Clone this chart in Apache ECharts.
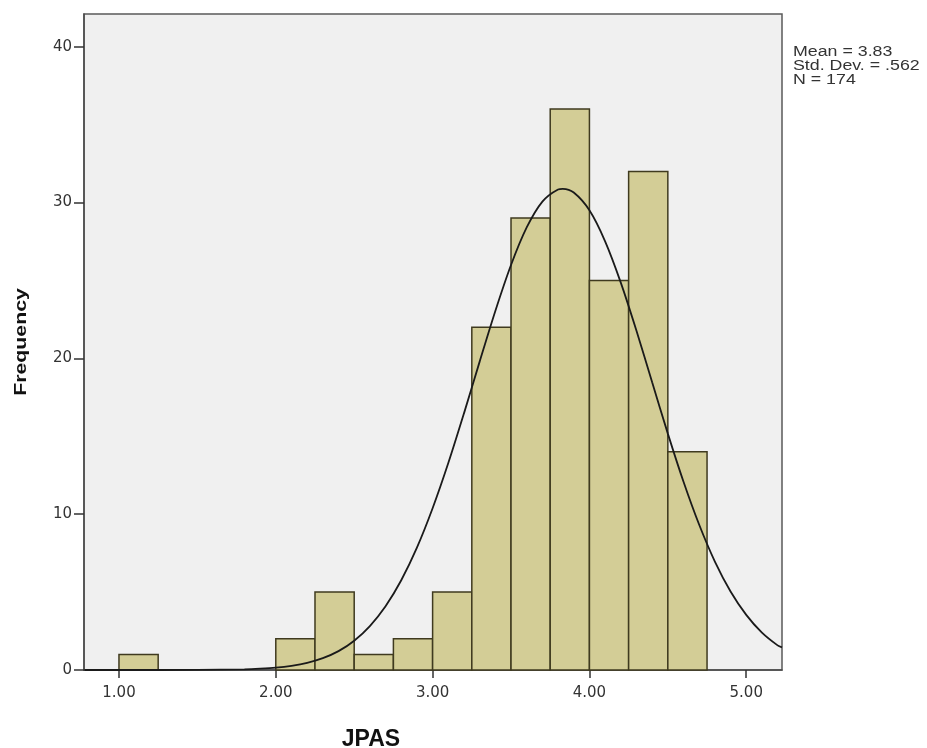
<!DOCTYPE html>
<html>
<head>
<meta charset="utf-8">
<script src="https://cdn.jsdelivr.net/npm/echarts@6/dist/echarts.min.js"></script>
<style>
html,body{margin:0;padding:0;background:#fff;}
#chart{width:927px;height:748px;}
</style>
</head>
<body>
<div id="chart"></div>
<script>
// Histogram bins (lower edge, upper edge) and frequencies
const binStarts = [1.00, 2.00, 2.25, 2.50, 2.75, 3.00, 3.25, 3.50, 3.75, 4.00, 4.25, 4.50];
const binEnds   = [1.25, 2.25, 2.50, 2.75, 3.00, 3.25, 3.50, 3.75, 4.00, 4.25, 4.50, 4.75];
const counts    = [1, 2, 5, 1, 2, 5, 22, 29, 36, 25, 32, 14];

// Normal curve (x, frequency)
const curveX = [0.78, 1.0, 1.5, 1.8, 1.9, 2.0, 2.1, 2.2, 2.3, 2.4, 2.5, 2.6, 2.7, 2.8, 2.9, 3.0, 3.1, 3.2, 3.3, 3.4, 3.5, 3.6, 3.7, 3.8, 3.83, 3.9, 4.0, 4.1, 4.2, 4.3, 4.4, 4.5, 4.6, 4.7, 4.8, 4.9, 5.0, 5.1, 5.2, 5.228];
const curveY = [0.00, 0.00, 0.006, 0.045, 0.085, 0.15, 0.27, 0.46, 0.76, 1.21, 1.88, 2.82, 4.09, 5.76, 7.85, 10.38, 13.28, 16.47, 19.79, 23.04, 25.99, 28.40, 30.06, 30.84, 30.88, 30.64, 29.50, 27.51, 24.86, 21.77, 18.46, 15.17, 12.08, 9.32, 6.96, 5.04, 3.54, 2.40, 1.58, 1.45];

// Axis ticks
const xTicks = [1, 2, 3, 4, 5];
const yTicks = [0, 10, 20, 30, 40];

// Stats legend and titles
const statsLines = ['Mean = 3.83', 'Std. Dev. = .562', 'N = 174'];
const xTitle = 'JPAS';
const yTitle = 'Frequency';

const histData = binStarts.map((s, i) => [s, binEnds[i], counts[i]]);
const curveData = curveX.map((x, i) => [x, curveY[i]]);

const chart = echarts.init(document.getElementById('chart'), null, {renderer: 'canvas'});
const font = '"Liberation Sans", Arial, sans-serif';
const labelFont = '"DejaVu Sans", sans-serif';

chart.setOption({
  animation: false,
  backgroundColor: '#ffffff',
  grid: {
    left: 84, top: 14, right: 145, bottom: 78,
    show: true, backgroundColor: '#f0f0f0', borderColor: '#5a5a5a', borderWidth: 1.5
  },
  xAxis: {
    type: 'value', min: 0.777, max: 5.228,
    splitLine: {show: false},
    axisLine: {show: true, onZero: false, lineStyle: {color: '#4a4a4a', width: 1.5}},
    axisTick: {show: true, customValues: xTicks, length: 8, inside: false, lineStyle: {color: '#333', width: 1.5}},
    axisLabel: {customValues: xTicks, margin: 16, color: '#333', fontSize: 15, fontFamily: labelFont,
      formatter: v => v.toFixed(2)}
  },
  yAxis: {
    type: 'value', min: 0, max: 42.1,
    splitLine: {show: false},
    axisLine: {show: true, lineStyle: {color: '#4a4a4a', width: 1.5}},
    axisTick: {show: true, customValues: yTicks, length: 10, lineStyle: {color: '#333', width: 1.5}},
    axisLabel: {customValues: yTicks, margin: 12, color: '#333', fontSize: 15, fontFamily: labelFont}
  },
  series: [
    {
      type: 'custom',
      data: histData,
      encode: {x: [0, 1], y: 2},
      renderItem: function (params, api) {
        const p0 = api.coord([api.value(0), api.value(2)]);
        const p1 = api.coord([api.value(1), 0]);
        return {
          type: 'rect',
          shape: {x: p0[0], y: p0[1], width: p1[0] - p0[0], height: p1[1] - p0[1]},
          style: {fill: '#d3cd96', stroke: '#3f3a1f', lineWidth: 1.5}
        };
      },
      z: 2
    },
    {
      type: 'line',
      data: curveData,
      smooth: 0.3,
      showSymbol: false,
      lineStyle: {color: '#1a1a1a', width: 1.8},
      z: 3
    }
  ],
  graphic: [
    {
      type: 'text', x: 793, y: 45, scaleX: 1.27,
      style: {text: statsLines.join('\n'), fill: '#333', font: '14px ' + font, lineHeight: 14,
        align: 'left', verticalAlign: 'top'}
    },
    {
      type: 'text', x: 371, y: 740,
      style: {text: xTitle, fill: '#111', font: 'bold 23px ' + font, align: 'center', verticalAlign: 'middle'}
    },
    {
      type: 'text', x: 22, y: 342, rotation: Math.PI / 2, scaleX: 1.33,
      style: {text: yTitle, fill: '#111', font: 'bold 16px ' + font, align: 'center', verticalAlign: 'middle'}
    }
  ]
});
</script>
</body>
</html>
